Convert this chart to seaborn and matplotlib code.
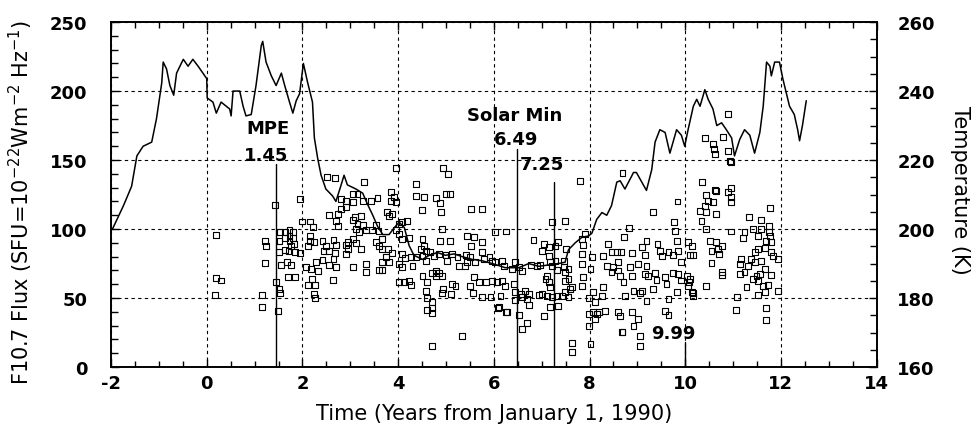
import matplotlib
matplotlib.use("Agg")
import matplotlib.pyplot as plt
from matplotlib.ticker import MultipleLocator
import seaborn as sns
import pandas as pd

# ---- F10.7 flux trace (years from 1990-01-01, SFU) ----
flux_years = [-1.97, -1.74, -1.57, -1.46, -1.33, -1.15, -1.05, -0.94, -0.91, -0.84,
              -0.77, -0.69, -0.63, -0.49, -0.39, -0.29, -0.18, -0.08, 0.00, 0.01,
              0.13, 0.20, 0.30, 0.41, 0.48, 0.51, 0.55, 0.69, 0.76, 0.82,
              0.93, 1.03, 1.14, 1.17, 1.24, 1.35, 1.45, 1.56, 1.63, 1.73,
              1.80, 1.87, 1.94, 2.02, 2.11, 2.21, 2.25, 2.32, 2.39, 2.49,
              2.63, 2.70, 2.80, 2.87, 2.94, 3.12, 3.26, 3.36, 3.47, 3.57,
              3.68, 3.81, 3.92, 4.02, 4.13, 4.23, 4.33, 4.51, 4.65, 4.82,
              4.99, 5.17, 5.34, 5.55, 5.76, 5.97, 6.24, 6.52, 6.73, 6.94,
              7.15, 7.35, 7.49, 7.56, 7.70, 7.84, 7.98, 8.05, 8.15, 8.26,
              8.36, 8.46, 8.57, 8.64, 8.74, 8.92, 8.98, 9.19, 9.30, 9.37,
              9.47, 9.58, 9.68, 9.82, 9.92, 9.99, 10.06, 10.17, 10.24, 10.31,
              10.41, 10.48, 10.58, 10.66, 10.76, 10.86, 10.97, 11.03, 11.14, 11.24,
              11.35, 11.45, 11.56, 11.63, 11.70, 11.77, 11.80, 11.87, 11.97, 12.04,
              12.11, 12.18, 12.28, 12.35, 12.39, 12.45, 12.53]
flux_values = [100, 117, 131, 153, 160, 163, 180, 206, 221, 216,
               204, 197, 213, 223, 218, 223, 218, 213, 209, 195,
               192, 184, 192, 189, 187, 182, 200, 200, 189, 182,
               183, 204, 233, 236, 221, 211, 204, 213, 204, 192,
               184, 193, 198, 220, 206, 192, 166, 151, 139, 129,
               124, 120, 131, 139, 132, 129, 126, 118, 110, 102,
               96, 96, 101, 105, 101, 88, 81, 78, 81, 83,
               81, 82, 80, 78, 77, 75, 72, 72, 75, 73,
               74, 75, 76, 85, 90, 94, 95, 97, 107, 112,
               110, 117, 134, 135, 129, 141, 141, 128, 143, 163,
               172, 170, 155, 172, 168, 160, 172, 189, 194, 189,
               201, 194, 187, 175, 177, 172, 166, 153, 165, 172,
               168, 155, 170, 189, 221, 218, 211, 221, 221, 209,
               199, 189, 183, 172, 164, 175, 193]

# ---- Temperature observations (years, K) ----
obs_time = [
    0.20, 0.19, 0.30, 0.17, 1.21, 1.23, 1.21, 1.15, 1.15, 1.42,
    1.44, 1.52, 1.54, 1.49, 1.94, 1.54, 1.64, 1.73, 1.80, 1.52,
    1.63, 1.73, 1.81, 1.73, 1.83, 1.76, 1.85, 1.51, 1.63, 1.71,
    1.56, 1.67, 1.76, 1.69, 1.85, 1.94, 1.99, 2.15, 2.22, 2.16,
    2.15, 2.11, 2.25, 2.08, 2.18, 2.29, 2.32, 2.11, 2.20, 2.27,
    2.25, 2.27, 2.42, 2.49, 2.65, 2.70, 2.44, 2.56, 2.69, 2.42,
    2.55, 2.65, 2.70, 2.63, 2.55, 2.51, 2.69, 3.29, 3.95, 4.37,
    4.37, 2.81, 2.91, 3.05, 3.15, 3.05, 3.26, 3.43, 3.57, 2.81,
    2.91, 2.74, 2.70, 2.74, 3.10, 3.22, 3.06, 3.15, 3.26, 3.12,
    3.19, 3.33, 3.45, 3.53, 3.59, 2.91, 2.96, 3.05, 3.12, 2.96,
    2.91, 3.22, 3.06, 3.33, 3.33, 3.67, 3.60, 3.66, 3.78, 3.53,
    3.88, 3.74, 3.67, 3.81, 3.60, 3.67, 3.85, 3.92, 3.95, 3.85,
    3.76, 3.81, 3.88, 4.02, 4.09, 4.19, 3.95, 4.02, 4.09, 4.23,
    4.09, 4.15, 4.26, 4.02, 4.09, 4.30, 4.02, 4.13, 4.23, 4.26,
    4.37, 4.48,
    4.94, 5.04, 4.55, 4.79, 5.00, 5.08, 4.88, 4.49, 4.89, 5.53,
    4.91, 4.51, 4.88, 5.08, 5.44, 5.58, 5.53, 4.54, 4.58, 4.67,
    4.51, 4.59, 4.75, 4.85, 4.99, 5.13, 5.24, 5.41, 5.51, 5.60,
    5.44, 5.03, 4.79, 4.85, 4.71, 4.92, 4.79, 5.27, 5.40, 4.51,
    4.61, 4.92, 5.13, 5.20, 5.51, 5.58, 5.56, 4.94, 5.10, 4.58,
    4.61, 4.71, 4.61, 4.71, 4.70, 5.33, 4.70,
    5.76, 6.03, 6.26, 7.21, 7.48, 7.81, 5.76, 5.76, 5.79, 5.91,
    5.97, 6.03, 6.17, 6.21, 6.38, 6.45, 6.52, 6.59, 6.77, 6.90,
    6.97, 6.83, 7.04, 7.15, 7.00, 7.35, 7.29, 7.51, 7.15, 7.18,
    7.29, 7.22, 7.32, 7.46, 7.49, 7.56, 7.46, 5.69, 5.83, 5.97,
    6.07, 6.17, 5.76, 5.93, 6.14, 6.24, 6.42, 6.45, 6.56, 6.66,
    6.73, 6.59, 6.45, 6.69, 6.94, 7.01, 7.11, 7.22, 7.32, 7.08,
    7.15, 7.11, 7.18, 6.10, 6.28, 6.52, 6.73, 7.04, 7.18, 7.35,
    6.59, 6.69, 7.49, 7.56, 7.49, 7.60, 7.56, 7.42, 7.63, 7.84,
    7.87, 7.84, 7.84, 7.87, 7.84, 7.91, 8.05, 8.02, 7.98, 8.08,
    8.12, 7.98, 8.08, 8.15, 8.12, 7.98, 7.63, 7.63, 8.02, 6.09,
    6.26, 8.67,
    8.69, 10.35, 10.62, 10.65, 10.90, 10.96, 10.96, 10.96, 10.44, 10.48,
    10.58, 10.41, 10.31, 10.44, 10.65, 10.34, 10.44, 10.96, 9.84, 9.33,
    9.77, 9.78, 8.83, 8.73, 11.78, 11.33, 11.59, 11.76, 11.76, 11.78,
    11.80, 11.69, 11.52, 11.42, 11.24, 11.21, 11.59,
    11.52, 11.66, 11.80, 11.83, 11.94, 11.45, 11.38, 11.17, 11.14, 11.31,
    11.45, 11.59, 11.66, 11.56, 11.49, 11.80, 11.24, 11.14, 11.42, 11.52,
    11.63, 11.73, 11.28, 11.52, 11.66, 11.94, 11.09, 11.07, 11.69, 11.69,
    8.38, 8.29, 8.46, 8.57, 8.66, 8.88, 9.09, 9.19, 9.16, 9.42,
    9.47, 9.51, 9.65, 9.75, 9.85, 9.83, 10.06, 10.15, 10.17, 10.10,
    9.92,
    8.36, 8.50, 8.60, 8.46, 8.60, 8.64, 8.71, 8.85, 8.88, 9.02,
    9.19, 9.16, 9.23, 9.37, 9.40, 9.58, 9.61, 9.75, 9.85, 9.92,
    10.03, 10.10, 10.06, 10.17, 9.82, 9.65, 9.19, 9.09, 9.06, 8.92,
    9.33, 8.74, 8.29, 8.26,
    8.19, 8.33, 8.60, 8.64, 8.88, 9.02, 8.92, 8.69, 9.06, 9.06,
    9.58, 9.65,
    10.77, 10.77, 10.44, 10.55, 10.70, 10.69, 10.51, 10.65, 10.76, 10.55,
    10.15, 10.17, 10.08,
    10.90, 10.41, 10.58, 10.61, 10.63, 10.79, 10.90, 10.93, 10.95,
]
obs_temp = [
    198.2, 185.7, 185.1, 180.8, 196.6, 195.2, 190.2, 180.8, 177.3, 207.1,
    184.7, 182.6, 181.4, 176.2, 208.7, 199.2, 199.1, 199.8, 199.1, 196.5,
    197.3, 198.1, 197.5, 196.6, 195.7, 195.0, 193.3, 193.3, 194.0, 193.6,
    189.6, 190.4, 189.6, 186.0, 186.0, 193.1, 202.2, 202.2, 200.5, 198.1,
    196.6, 195.2, 196.2, 188.9, 188.4, 190.4, 187.9, 183.8, 185.5, 183.8,
    181.2, 179.9, 196.6, 195.0, 196.8, 195.4, 193.7, 193.7, 193.1, 191.1,
    189.6, 191.3, 188.9, 185.2, 204.1, 215.1, 214.8, 213.7, 217.6, 213.1,
    209.7, 208.7, 208.2, 210.2, 210.2, 207.8, 208.2, 208.2, 208.9, 205.8,
    206.3, 204.4, 202.4, 201.0, 203.4, 203.7, 202.6, 201.5, 201.1, 200.0,
    199.1, 199.8, 199.8, 201.1, 199.5, 195.4, 196.2, 197.1, 196.0, 194.2,
    192.8, 194.3, 188.9, 189.9, 187.5, 197.1, 195.2, 194.2, 194.2, 196.3,
    193.1, 191.8, 190.4, 190.4, 188.2, 188.2, 210.7, 209.2, 207.8, 208.2,
    205.0, 203.9, 204.4, 201.5, 202.0, 202.4, 199.8, 198.6, 197.1, 197.5,
    192.8, 191.5, 191.8, 189.9, 188.9, 189.4, 184.6, 184.7, 185.0, 183.8,
    191.8, 194.2,
    217.6, 216.0, 209.4, 208.9, 210.2, 210.2, 207.6, 205.5, 205.0, 205.8,
    200.0, 197.1, 196.6, 196.6, 197.9, 197.6, 195.0, 195.2, 193.7, 193.3,
    192.3, 190.8, 192.3, 192.8, 192.5, 192.8, 191.8, 192.5, 191.8, 190.4,
    190.4, 190.8, 187.9, 187.3, 187.3, 186.5, 186.5, 189.4, 189.4, 186.3,
    184.6, 181.5, 184.1, 183.6, 183.6, 186.0, 181.5, 182.7, 181.2, 182.1,
    179.9, 178.8, 176.6, 177.0, 175.6, 169.1, 166.0,
    205.8, 199.1, 199.3, 202.0, 202.3, 214.0, 196.2, 193.3, 191.3, 191.8,
    190.8, 190.5, 190.8, 189.2, 188.4, 190.4, 188.9, 187.9, 189.6, 189.2,
    189.6, 196.9, 195.6, 194.7, 193.7, 196.2, 195.2, 194.2, 192.3, 190.4,
    190.8, 189.2, 188.2, 188.9, 187.6, 188.4, 190.8, 184.6, 184.7, 185.0,
    184.6, 185.0, 180.2, 180.2, 180.7, 183.6, 184.1, 181.7, 181.2, 182.1,
    181.2, 180.2, 179.5, 179.7, 180.9, 181.2, 180.7, 180.2, 180.5, 185.5,
    184.6, 186.5, 183.1, 177.3, 175.9, 175.1, 178.0, 174.9, 177.3, 177.8,
    171.0, 172.8, 185.0, 185.5, 181.7, 182.6, 180.2, 180.7, 183.1, 183.6,
    186.0, 189.9, 192.8, 195.4, 197.1, 198.6, 191.8, 188.4, 179.9, 181.7,
    178.8, 175.4, 175.9, 175.4, 173.9, 172.0, 167.0, 164.3, 166.7, 177.0,
    176.0, 170.1,
    216.3, 213.6, 211.3, 211.1, 210.7, 211.8, 209.2, 207.9, 210.0, 208.2,
    207.8, 206.8, 205.3, 205.0, 204.4, 202.4, 200.0, 199.3, 208.0, 205.0,
    202.0, 199.5, 200.4, 197.6, 206.0, 203.4, 202.5, 201.0, 199.1, 197.9,
    196.2, 196.6, 198.1, 200.0, 199.2, 197.3, 200.0,
    194.2, 194.4, 193.3, 192.3, 191.3, 193.3, 191.3, 191.3, 189.9, 189.4,
    190.4, 190.8, 188.4, 187.0, 186.5, 186.7, 187.5, 187.0, 185.5, 185.0,
    183.6, 183.8, 183.1, 181.0, 181.8, 182.1, 180.2, 176.6, 177.0, 173.6,
    195.7, 192.3, 193.4, 193.3, 193.3, 193.1, 194.7, 196.6, 192.5, 195.7,
    193.7, 192.3, 193.4, 192.5, 193.7, 196.6, 196.2, 195.2, 192.5, 192.5,
    190.4,
    189.4, 188.9, 190.4, 187.5, 188.0, 186.5, 184.6, 188.9, 186.5, 189.9,
    189.4, 187.0, 186.5, 187.3, 185.3, 186.0, 184.1, 187.3, 187.0, 185.1,
    186.5, 185.5, 183.6, 181.5, 181.7, 179.7, 179.2, 182.1, 181.5, 182.1,
    182.6, 180.7, 183.1, 180.7,
    175.9, 176.3, 175.9, 174.9, 176.0, 173.9, 171.8, 170.2, 168.9, 166.2,
    176.3, 175.1,
    187.5, 186.7, 183.6, 190.2, 192.8, 194.2, 196.6, 196.2, 195.2, 193.7,
    181.7, 180.7, 184.6,
    233.4, 226.3, 224.7, 223.2, 221.8, 226.6, 222.7, 219.8, 219.4,
]

# ---- Event markers ----
event_years = [1.45, 6.49, 7.25, 9.99]
event_tops = [147, 158, 134, 18]
label_text = ["MPE", "1.45", "Solar Min", "6.49", "7.25", "9.99"]
label_x = [1.29, 1.25, 6.43, 6.46, 7.01, 9.75]
label_y = [173, 154, 183, 165, 147, 25]

sns.set_style("ticks")
plt.rcParams["font.family"] = ["DejaVu Sans"]
plt.rcParams["mathtext.fontset"] = "dejavusans"
plt.rcParams["axes.unicode_minus"] = False
for key in ["text.color", "axes.labelcolor", "xtick.color", "ytick.color",
            "axes.edgecolor"]:
    plt.rcParams[key] = "black"

fig = plt.figure(figsize=(9.74, 4.27), dpi=100)
ax = fig.add_axes([0.114, 0.138, 0.786, 0.808])

flux_df = pd.DataFrame({"year": flux_years, "flux": flux_values})
sns.lineplot(data=flux_df, x="year", y="flux", ax=ax, color="black",
             linewidth=1.1, sort=False, estimator=None, zorder=3)

for yr, top in zip(event_years, event_tops):
    ax.plot([yr, yr], [0, top], color="black", linewidth=1.0, zorder=3)
for t, x, y in zip(label_text, label_x, label_y):
    ax.text(x, y, t, ha="center", va="center", fontsize=13, fontweight="bold",
            color="black", zorder=5)

ax.set_xlim(-2, 14)
ax.set_ylim(0, 250)
ax.xaxis.set_major_locator(MultipleLocator(2))
ax.xaxis.set_minor_locator(MultipleLocator(0.5))
ax.yaxis.set_major_locator(MultipleLocator(50))
ax.yaxis.set_minor_locator(MultipleLocator(10))
ax.grid(True, which="major", color="black", linestyle=(0, (3, 3)), linewidth=0.8)
ax.tick_params(which="both", direction="in", top=True, right=False,
               labelsize=13, width=1.0, color="black", labelcolor="black")
ax.tick_params(axis="y", which="major", length=6, pad=17)
ax.tick_params(axis="y", which="minor", length=5)
ax.tick_params(axis="x", which="major", length=6, pad=5)
ax.tick_params(axis="x", which="minor", length=4)
for lab in ax.get_xticklabels() + ax.get_yticklabels():
    lab.set_fontweight("bold")
ax.set_xlabel("Time (Years from January 1, 1990)", fontsize=15, color="black")
ax.set_ylabel("F10.7 Flux (SFU=10$^{-22}$Wm$^{-2}$ Hz$^{-1}$)", fontsize=15,
              color="black")
ax.xaxis.set_label_coords(0.5, -0.105)
ax.yaxis.set_label_coords(-0.099, 0.48)
for s in ax.spines.values():
    s.set_linewidth(1.2)
    s.set_color("black")

ax2 = ax.twinx()
obs_df = pd.DataFrame({"year": obs_time, "temp": obs_temp})
sns.scatterplot(data=obs_df, x="year", y="temp", ax=ax2, marker="s", s=18,
                facecolors="none", edgecolor="black", linewidth=0.8, zorder=4)
ax2.collections[-1].set_facecolor("none")
ax2.set_ylim(160, 260)
ax2.yaxis.set_major_locator(MultipleLocator(20))
ax2.yaxis.set_minor_locator(MultipleLocator(5))
ax2.tick_params(which="both", direction="in", labelsize=13, width=1.0,
                color="black", labelcolor="black")
ax2.tick_params(which="major", length=6, pad=15)
ax2.tick_params(which="minor", length=5)
for lab in ax2.get_yticklabels():
    lab.set_fontweight("bold")
ax2.set_ylabel("Temperature (K)", fontsize=15, rotation=270, va="bottom",
               color="black")
ax2.yaxis.set_label_coords(1.096, 0.515)
ax2.set_xlabel("")
for s in ax2.spines.values():
    s.set_linewidth(1.2)
    s.set_color("black")

fig.savefig("out.png", dpi=100)
